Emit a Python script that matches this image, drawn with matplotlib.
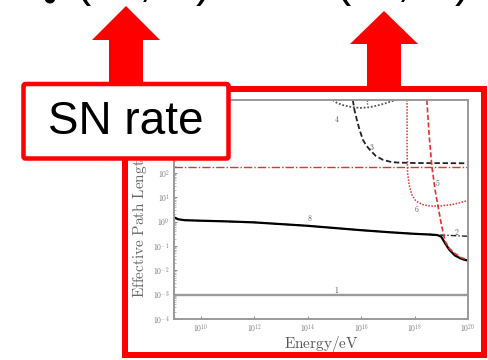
import matplotlib
matplotlib.use('Agg')
import numpy as np
import matplotlib.pyplot as plt
from matplotlib.patches import Polygon, Rectangle, FancyBboxPatch, Circle
from matplotlib.ticker import FixedLocator, FuncFormatter, NullFormatter

plt.rcParams['mathtext.fontset'] = 'cm'

# ---------------- data (log10 energy / log10 path length) ----------------
c1_logE = [9.0, 20.0]
c1_logL = [-3.0, -3.0]

c8_logE = [9.0, 9.15, 9.4, 10, 11, 12, 13, 14, 15, 16, 17, 18, 18.6, 18.85,
           19.0, 19.15, 19.3, 19.5, 19.7, 19.85, 20.0]
c8_logL = [0.18, 0.10, 0.06, 0.04, 0.01, -0.03, -0.10, -0.17, -0.26, -0.35,
           -0.43, -0.50, -0.53, -0.55, -0.62, -0.90, -1.15, -1.38, -1.50,
           -1.56, -1.60]

c2_logE = [9.0, 9.15, 9.4, 10, 11, 12, 13, 14, 15, 16, 17, 18, 18.6, 18.85,
           19.2, 19.6, 20.0]
c2_logL = [0.18, 0.10, 0.06, 0.04, 0.01, -0.03, -0.10, -0.17, -0.26, -0.35,
           -0.43, -0.50, -0.53, -0.55, -0.56, -0.58, -0.60]

c3_logE = [15.69, 15.75, 15.84, 15.95, 16.07, 16.2, 16.33, 16.55, 16.82,
           17.1, 17.34, 18.0, 20.0]
c3_logL = [5.0, 4.6, 4.19, 3.75, 3.36, 3.12, 2.95, 2.7, 2.54, 2.46, 2.43,
           2.41, 2.40]

c4_logE = [14.94, 15.1, 15.32, 15.6, 15.96, 16.3, 16.6, 16.9, 17.2, 17.25]
c4_logL = [5.0, 4.88, 4.79, 4.72, 4.67, 4.70, 4.77, 4.86, 4.97, 5.0]

c4r_logE = [16.22, 16.22]
c4r_logL = [5.0, 4.8]

c5_logE = [18.46, 18.55, 18.65, 18.77, 18.88, 19.0, 19.14, 19.3, 19.5,
           19.75, 20.0]
c5_logL = [5.0, 3.5, 2.25, 1.3, 0.62, -0.1, -0.8, -1.1, -1.3, -1.48, -1.57]

c6_logE = [17.72, 17.72, 17.74, 17.8, 17.9, 18.05, 18.3, 18.6, 19.0, 19.4,
           19.7, 20.0]
c6_logL = [5.0, 3.0, 2.0, 1.5, 1.1, 0.85, 0.70, 0.64, 0.65, 0.70, 0.78, 0.87]

c7_logE = [9.0, 20.0]
c7_logL = [2.26, 2.26]

curve_labels = ['1', '2', '3', '4', '5', '6', '8']
label_logE = [15.1, 19.59, 16.4, 15.1, 18.88, 18.09, 14.08]
label_logL = [-2.8, -0.41, 3.07, 4.22, 1.6, 0.5, 0.17]

x_ticks_exp = [10, 12, 14, 16, 18, 20]
y_ticks_exp = [-4, -3, -2, -1, 0, 1, 2, 3, 4]

top_chars = ['(', ',', ')', '(', ',', ')']
top_chars_x = [83, 145, 203, 343, 403, 462]

W, H = 489, 360
fig = plt.figure(figsize=(W / 100, H / 100), dpi=100)

RED = '#ff0000'
CRED = '#e8302c'
GREY = '#999999'

ax = fig.add_axes([174 / W, 1 - 319 / H, 294 / W, 219 / H])
ax.set_xscale('log')
ax.set_yscale('log')
ax.set_xlim(1e9, 1e20)
ax.set_ylim(1e-4, 1e5)


def P(le, ll):
    return 10 ** np.array(le, float), 10 ** np.array(ll, float)


ax.plot(*P(c1_logE, c1_logL), color='#9a9a9a', lw=1.7, solid_capstyle='butt')
ax.plot(*P(c7_logE, c7_logL), color=CRED, lw=1.0, dashes=(6, 1.5, 1, 1.5))
ax.plot(*P(c3_logE, c3_logL), color='#222222', lw=1.3, dashes=(3, 1.5))
ax.plot(*P(c4_logE, c4_logL), color='#555555', lw=1.3, dashes=(1, 1))
ax.plot(*P(c4r_logE, c4r_logL), color=CRED, lw=1.0, dashes=(1, 1))
ax.plot(*P(c6_logE, c6_logL), color=CRED, lw=1.1, dashes=(1, 1))
ax.plot(*P(c2_logE, c2_logL), color='#222222', lw=1.0, dashes=(4, 1.5, 1, 1.5))
ax.plot(*P(c8_logE, c8_logL), color='black', lw=1.6)
ax.plot(*P(c5_logE, c5_logL), color=CRED, lw=1.2, dashes=(3, 1.5))

for t, le, ll in zip(curve_labels, label_logE, label_logL):
    ax.text(10 ** le, 10 ** ll, r'$\mathrm{%s}$' % t, fontsize=5.5,
            color='#555555', ha='center', va='center')

for s in ax.spines.values():
    s.set_color(GREY)
    s.set_linewidth(1.4)

ax.xaxis.set_major_locator(FixedLocator([10.0 ** e for e in x_ticks_exp]))
ax.yaxis.set_major_locator(FixedLocator([10.0 ** e for e in y_ticks_exp]))
ax.xaxis.set_minor_locator(FixedLocator([]))
ax.yaxis.set_minor_locator(FixedLocator(
    [m * 10.0 ** e for e in range(-4, 5) for m in range(2, 10)]))
ax.yaxis.set_minor_formatter(NullFormatter())
fmt = FuncFormatter(lambda v, p: r'$\mathrm{10^{%d}}$' % int(round(np.log10(v))))
ax.xaxis.set_major_formatter(fmt)
ax.yaxis.set_major_formatter(fmt)
ax.tick_params(which='major', direction='in', length=2.5, width=0.6,
               color='#777777', labelsize=5.5, labelcolor='#777777', pad=3)
ax.tick_params(axis='x', which='major', pad=2.5)
ax.tick_params(which='minor', direction='in', length=1.2, width=0.4,
               color='#888888')

# ---------------- overlay in pixel coordinates ----------------
ov = fig.add_axes([0, 0, 1, 1], zorder=10)
ov.set_xlim(0, W)
ov.set_ylim(H, 0)
ov.axis('off')
ov.patch.set_alpha(0)

ov.text(321, 344, r'$\mathrm{Energy/eV}$', fontsize=11, color='#555555',
        ha='center', va='center')
ov.text(140, 298, r'$\mathrm{Effective\ Path\ Length}$', fontsize=11,
        color='#666666', rotation=90, ha='center', va='bottom', zorder=1)

# big red frame
ov.add_patch(Rectangle((125, 89), 359, 266, fill=False, ec=RED, lw=6 * 0.72,
                       joinstyle='miter', zorder=2))

# arrows
ov.add_patch(Polygon([(126, 6), (160, 40), (143, 40), (143, 86), (109, 86),
                      (109, 40), (92, 40)], closed=True, fc=RED, ec='none',
                     zorder=3))
ov.add_patch(Polygon([(384, 11), (418, 44), (401, 44), (401, 90), (367, 90),
                      (367, 44), (350, 44)], closed=True, fc=RED, ec='none',
                     zorder=3))

# SN rate box
ov.add_patch(FancyBboxPatch((23.5, 84), 205, 74.5,
                            boxstyle='round,pad=0,rounding_size=2',
                            fc='white', ec=RED, lw=4.5 * 0.72, zorder=4))
ov.text(126, 121.5, 'SN rate', fontsize=33, family='Liberation Sans',
        color='black', ha='center', va='center', zorder=5)

# partially visible text at the top edge
ov.add_patch(Circle((50, -2), 5.5, fc='black', ec='none', zorder=5))
for ch, x in zip(top_chars, top_chars_x):
    ov.text(x, 6, ch, fontsize=33, family='Liberation Sans', color='black',
            ha='center', va='bottom', zorder=5)

fig.savefig('out.png', dpi=100)
